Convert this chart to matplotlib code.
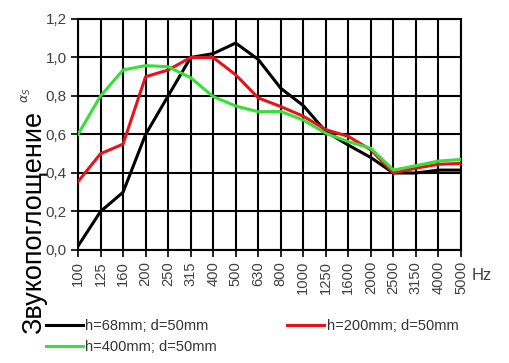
import numpy as np
import matplotlib
matplotlib.use("Agg")
import matplotlib.pyplot as plt

plt.rcParams['font.family'] = ['Liberation Sans', 'DejaVu Sans']

# frequency bands (Hz) and absorption coefficients
freqs = ["100", "125", "160", "200", "250", "315", "400", "500", "630", "800",
         "1000", "1250", "1600", "2000", "2500", "3150", "4000", "5000"]
h68 = [0.02, 0.20, 0.30, 0.60, 0.80, 1.00, 1.02, 1.075, 0.99, 0.84,
       0.75, 0.615, 0.545, 0.48, 0.40, 0.40, 0.415, 0.415]
h200 = [0.355, 0.50, 0.55, 0.90, 0.935, 1.00, 1.00, 0.91, 0.79, 0.745,
        0.695, 0.625, 0.59, 0.52, 0.40, 0.425, 0.445, 0.45]
h400 = [0.60, 0.80, 0.935, 0.958, 0.952, 0.895, 0.797, 0.748, 0.718, 0.72,
        0.675, 0.606, 0.563, 0.528, 0.415, 0.438, 0.462, 0.47]
labels = ["h=68mm; d=50mm", "h=200mm; d=50mm", "h=400mm; d=50mm"]
colors = ["#000000", "#e3141b", "#36e036"]

fig = plt.figure(figsize=(5.09, 3.63), dpi=100)
ax = fig.add_axes([0.1532, 0.3113, 0.7525, 0.6364])

x = np.arange(len(freqs))
lines = []
for vals, lab, col in zip([h68, h200, h400], labels, colors):
    ln, = ax.plot(x, vals, color=col, lw=2.2, label=lab, zorder=3)
    lines.append(ln)

ax.set_xlim(0, len(freqs) - 1)
ax.set_ylim(0, 1.2)
ax.set_xticks(x)
ax.set_xticklabels(freqs, rotation=90, fontsize=10.6, color="#404040")
yt = np.arange(0, 1.21, 0.2)
ax.set_yticks(yt)
ax.set_yticklabels([("%.1f" % v).replace(".", ",") for v in yt], fontsize=11, color="#404040")
ax.grid(True, color="black", lw=1.5)
ax.set_axisbelow(True)
for s in ax.spines.values():
    s.set_color("black")
    s.set_linewidth(1.5)
ax.tick_params(length=5, width=1.2, color="black", pad=3)

fig.text(0.066, 0.386, "Звукопоглощение", rotation=90, fontsize=19.5,
         ha="center", va="center")
fig.text(0.051, 0.738, r"$\alpha_S$", rotation=90, fontsize=9, color="#404040",
         ha="center", va="center")
fig.text(0.947, 0.24, "Hz", fontsize=12, color="#404040", ha="center", va="center")

fig.legend([lines[0], lines[2], lines[1]], [labels[0], labels[2], labels[1]],
           ncol=2, loc="upper left", bbox_to_anchor=(0.079, 0.138),
           frameon=False, fontsize=10.5, handlelength=2.55, handletextpad=0.15,
           columnspacing=4.8, labelspacing=0.5, borderaxespad=0,
           labelcolor="#333333")

fig.savefig("out.png", dpi=100)
